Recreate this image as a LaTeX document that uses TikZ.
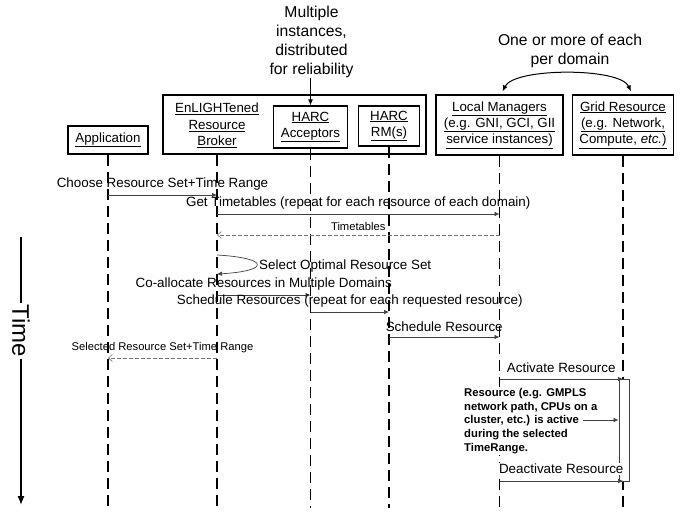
\documentclass[tikz,border=0pt]{standalone}
\usepackage{fontspec}
\setmainfont{Liberation Sans}
\usetikzlibrary{arrows.meta}
\begin{document}
\begin{tikzpicture}[x=1pt,y=-1pt,
  box/.style={draw,line width=1.2pt,align=center,inner sep=0pt,font=\fontsize{13.3}{16.3}\selectfont},
  boxtext/.style={align=center,inner sep=0pt,font=\fontsize{13.3}{16.3}\selectfont},
  lbl/.style={font=\fontsize{13.4}{16}\selectfont,inner sep=0pt},
  small/.style={font=\fontsize{11.2}{13}\selectfont,inner sep=0pt},
  life/.style={line width=1.3pt,dash pattern=on 11pt off 6pt},
  msg/.style={draw=black!75,line width=0.7pt,-{Latex[length=5pt,width=4.5pt]}},
  ret/.style={draw=black!55,line width=0.6pt,dash pattern=on 4pt off 2pt,-{Straight Barb[length=4pt,width=7pt]}},
  note/.style={line width=1pt,-{Latex[length=6pt,width=5pt]}},
]
\useasboundingbox (0,0) rectangle (684,511);

% participants
\node[box,minimum width=80pt,minimum height=28pt] (app) at (108,140) {\underline{Application}};
\node[box,minimum width=263pt,minimum height=59pt] (erb) at (294.5,124.5) {};
\node[boxtext] (brk) at (217,125.5) {\underline{EnLIGHTened}\\\underline{Resource}\\\underline{Broker}};
\node[box,minimum width=74pt,minimum height=42pt] (acc) at (310.5,127) {\underline{HARC}\\\underline{Acceptors}};
\node[box,minimum width=61pt,minimum height=40pt] (rm) at (389,126) {\underline{HARC}\\\underline{RM(s)}};
\node[box,minimum width=127pt,minimum height=60pt] (lm) at (499.5,125) {\underline{Local Managers}\\\underline{(e.g. GNI, GCI, GII}\\\underline{service instances)}};
\node[box,minimum width=101pt,minimum height=60pt] (gr) at (623,125) {\underline{Grid Resource}\\\underline{(e.g. Network,}\\\underline{Compute, \textit{etc.})}};

% lifelines
\coordinate (bot) at (0,508);
\draw[life] (app.south) -- (app |- bot);
\draw[life] (erb.south -| brk) -- (brk |- bot);
\draw[life] (acc.south) -- (acc |- bot);
\draw[life] (rm.south) -- (rm |- bot);
\draw[life] (lm.south) -- (lm |- bot);
\draw[life] (gr.south) -- (gr |- bot);

% annotations on top
\node[align=center,font=\fontsize{15.7}{19}\selectfont,inner sep=0pt] (multi) at (311.5,42) {Multiple\\instances,\\distributed\\for reliability};
\draw[note] (multi.south -| acc) -- (acc.north);
\node[align=center,font=\fontsize{15.7}{18.5}\selectfont,inner sep=0pt] (one) at (570,51) {One or more of each\\per domain};
\draw[line width=1pt,{Latex[length=6pt,width=5pt]}-{Latex[length=6pt,width=5pt]}] ([xshift=3pt,yshift=3pt]lm.north) .. controls +(12,-24) and +(-11,-24) .. ([xshift=8pt,yshift=3pt]gr.north);

% time axis
\node[font=\fontsize{24}{24}\selectfont,inner sep=1.5pt] (time) at (21,331) {\rotatebox{-90}{Time}};
\coordinate (t0) at (21,237);
\coordinate (t1) at (21,505);
\draw[line width=1.3pt] (t0) -- (time);
\draw[line width=1.3pt,-{Latex[length=9pt,width=7pt]}] (time) -- (t1);

% activation bar
\node[draw=black!75,line width=0.8pt,fill=white,minimum width=10pt,minimum height=102pt,inner sep=0pt] (act) at (624,430) {};

% messages
\coordinate (y1) at (0,195);
\coordinate (y2) at (0,214);
\coordinate (y3) at (0,235);
\coordinate (y4a) at (0,255);
\coordinate (y4b) at (0,274);
\coordinate (y5) at (0,295);
\coordinate (y6) at (0,312);
\coordinate (y7) at (0,337);
\coordinate (y8) at (0,358);
\coordinate (y9) at (0,379);
\coordinate (y10) at (0,481);

\draw[msg] (app |- y1) -- node[lbl,midway,yshift=10.5pt]{Choose Resource Set+Time Range} (brk |- y1);
\draw[msg] (brk |- y2) -- node[lbl,midway,yshift=10.5pt]{Get Timetables (repeat for each resource of each domain)} (lm |- y2);
\draw[ret] (lm |- y3) -- node[small,midway,yshift=9pt]{Timetables} (brk |- y3);
\draw[msg] (brk |- y4a) .. controls +(53,3) and +(53,-3) .. (brk |- y4b);
\node[lbl,anchor=west] (sel) at (259,266) {Select Optimal Resource Set};
\draw[msg] (brk |- y5) -- node[lbl,midway,yshift=10.5pt]{Co-allocate Resources in Multiple Domains} (acc |- y5);
\draw[msg] (acc |- y6) -- node[lbl,midway,yshift=10.5pt]{Schedule Resources (repeat for each requested resource)} (rm |- y6);
\draw[msg] (rm |- y7) -- node[lbl,midway,yshift=10.5pt]{Schedule Resource} (lm |- y7);
\draw[ret] (brk |- y8) -- node[small,midway,yshift=10pt]{Selected Resource Set+Time Range} (app |- y8);
\draw[msg] (lm |- y9) -- node[lbl,midway,yshift=11pt]{Activate Resource} (gr |- y9);

\node[anchor=west,align=left,fill=white,inner sep=1pt,font=\bfseries\fontsize{11.3}{13.7}\selectfont] (res) at (463,421) {Resource (e.g. GMPLS\\network path, CPUs on a\\cluster, etc.) is active\\during the selected\\TimeRange.};
\coordinate (actsrc) at (583,420);
\draw[msg] (actsrc) -- (act.west |- actsrc);

\draw[msg] (lm |- y10) -- node[lbl,midway,yshift=12pt,fill=white,inner sep=1pt]{Deactivate Resource} (gr |- y10);
\end{tikzpicture}
\end{document}
